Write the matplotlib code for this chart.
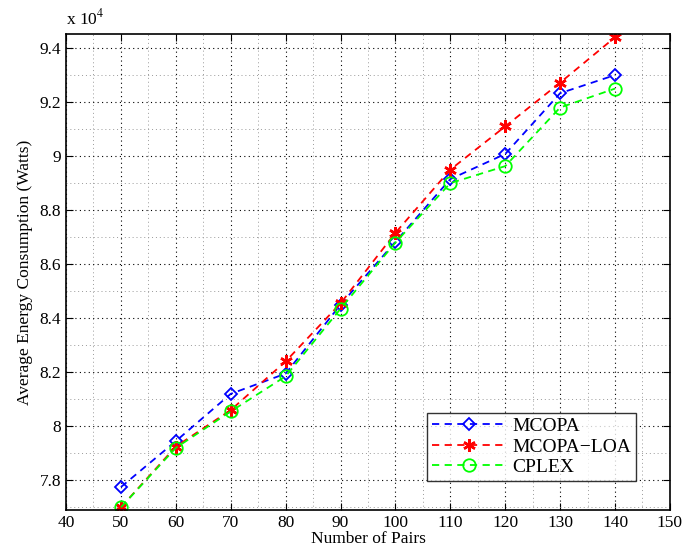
import numpy as np
import matplotlib
matplotlib.use("Agg")
import matplotlib.pyplot as plt
from matplotlib.ticker import MultipleLocator, FuncFormatter

pairs = [50, 60, 70, 80, 90, 100, 110, 120, 130, 140]
mcopa = [7.775, 7.945, 8.12, 8.195, 8.45, 8.683, 8.915, 9.008, 9.233, 9.30]
mcopa_loa = [7.70, 7.925, 8.06, 8.24, 8.455, 8.716, 8.95, 9.11, 9.272, 9.44]
cplex = [7.70, 7.92, 8.055, 8.185, 8.435, 8.68, 8.90, 8.963, 9.18, 9.25]

plt.rcParams["font.family"] = ["Liberation Serif", "DejaVu Serif"]
plt.rcParams["mathtext.fontset"] = "stix"

fig = plt.figure(figsize=(6.85, 5.56), dpi=100)
ax = fig.add_axes([0.0964, 0.0827, 0.8816, 0.8561])

ax.plot(pairs, mcopa, "b--", marker="D", ms=6.5, mfc="none", mew=1.3, lw=1.3,
        dashes=(4, 3), label="MCOPA")
ax.plot(pairs, mcopa_loa, "r--", marker=(6, 2, 0), ms=9, mfc="r", mew=1.8, lw=1.3,
        dashes=(4, 3), label="MCOPA\u2212LOA")
ax.plot(pairs, cplex, "--", color="#00ff00", marker="o", ms=9, mfc="none", mew=1.3,
        lw=1.3, dashes=(4, 3), label="CPLEX")

ax.set_xlim(40, 150)
ax.set_ylim(7.69, 9.452)
ax.xaxis.set_major_locator(MultipleLocator(10))
ax.xaxis.set_minor_locator(MultipleLocator(5))
ax.yaxis.set_major_locator(MultipleLocator(0.2))
ax.yaxis.set_minor_locator(MultipleLocator(0.1))
ax.yaxis.set_major_formatter(FuncFormatter(lambda v, p: f"{v:g}"))

ax.grid(True, which="major", color="k", ls=(0, (1, 3)), lw=0.8)
ax.grid(True, which="minor", color="0.6", ls=(0, (1, 3)), lw=0.7)
ax.tick_params(which="major", direction="in", length=5, width=0.8, labelsize=12.5,
               top=True, right=True)
ax.tick_params(which="minor", length=0)
for s in ax.spines.values():
    s.set_linewidth(1.2)

ax.set_xlabel("Number of Pairs", fontsize=12.5, labelpad=0)
ax.set_ylabel("Average Energy Consumption (Watts)", fontsize=12.5, labelpad=5)
ax.text(0.0, 1.012, r"x 10$^{4}$", transform=ax.transAxes, fontsize=12.5,
        ha="left", va="bottom")

leg = ax.legend(loc="lower right", bbox_to_anchor=(0.944, 0.061), fontsize=14,
                frameon=True, fancybox=False, edgecolor="k", handlelength=3.8,
                borderpad=0.25, labelspacing=0.15, handletextpad=0.35,
                borderaxespad=0)
leg.get_frame().set_linewidth(1.0)

fig.savefig("out.png", dpi=100)
